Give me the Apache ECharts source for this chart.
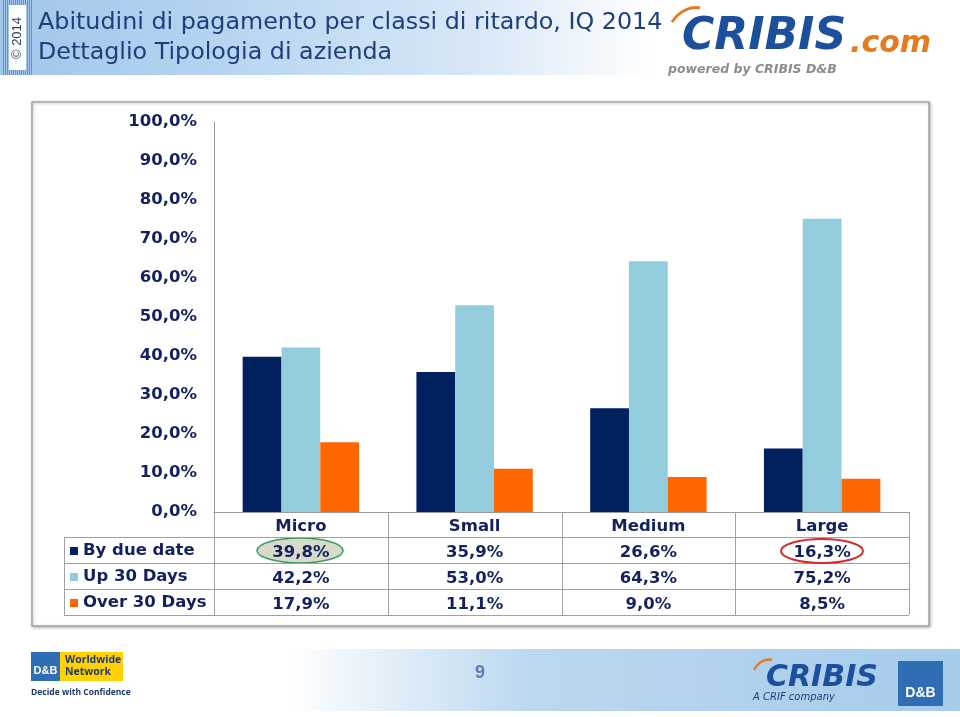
<!DOCTYPE html>
<html>
<head>
<meta charset="utf-8">
<script src="https://cdn.jsdelivr.net/npm/echarts@6/dist/echarts.min.js"></script>
<style>
html,body{margin:0;padding:0;background:#fff;}
#chart{width:960px;height:717px;}
</style>
</head>
<body>
<div id="chart"></div>
<script>
// ---- data ----
const categories = ['Micro', 'Small', 'Medium', 'Large'];
const seriesNames = ['By due date', 'Up 30 Days', 'Over 30 Days'];
const byDueDate = [39.8, 35.9, 26.6, 16.3];
const up30Days = [42.2, 53.0, 64.3, 75.2];
const over30Days = [17.9, 11.1, 9.0, 8.5];
const yTicks = [0, 10, 20, 30, 40, 50, 60, 70, 80, 90, 100];
const titleLine1 = 'Abitudini di pagamento per classi di ritardo, IQ 2014';
const titleLine2 = 'Dettaglio Tipologia di azienda';
const pageNumber = '9';

// ---- styling ----
const navy = '#13215f';
const colors = ['#002060', '#93cddd', '#ff6600'];
const tableFont = { fontFamily: 'DejaVu Sans', fontWeight: 'bold', fontSize: 16.5, color: navy };
const fmt = v => v.toFixed(1).replace('.', ',') + '%';
const allValues = [byDueDate, up30Days, over30Days];

const gridLeft = 214, gridRight = 909, gridTop = 122, gridBottom = 512;
const rowH = 26;

const chart = echarts.init(document.getElementById('chart'), null, { renderer: 'canvas' });

const xAxes = [{
  type: 'category', data: categories, position: 'bottom', gridIndex: 0, z: 5,
  axisLine: { show: true, lineStyle: { color: '#9a9a9a', width: 1 } },
  axisTick: { show: false },
  axisLabel: Object.assign({ margin: 6 }, tableFont)
}];
allValues.forEach((vals, i) => {
  xAxes.push({
    type: 'category', data: vals.map(fmt), position: 'bottom', gridIndex: 0, z: 5,
    offset: rowH * (i + 1),
    axisLine: { show: false }, axisTick: { show: false },
    axisLabel: Object.assign({ margin: 6 }, tableFont)
  });
});

// table lines & decoration
const g = [];
// header band
g.push({ type: 'rect', shape: { x: 0, y: 0, width: 960, height: 75 }, z: -10,
  style: { fill: new echarts.graphic.LinearGradient(0, 0, 1, 0, [
    { offset: 0, color: '#a2c6ea' }, { offset: 0.2, color: '#b2d2f0' }, { offset: 0.5, color: '#d9e8f7' }, { offset: 0.68, color: '#ffffff' }, { offset: 1, color: '#ffffff' }]) } });
// striped left strip
for (let i = 0; i < 15; i++) {
  g.push({ type: 'rect', shape: { x: 3 + i * 2, y: 0, width: 1, height: 75 }, z: -9, style: { fill: '#5f93cf' } });
}
g.push({ type: 'rect', shape: { x: 9, y: 5, width: 17, height: 65 }, z: -8, style: { fill: '#ffffff' } });
g.push({ type: 'text', x: 17.5, y: 38, rotation: Math.PI / 2, z: 1,
  style: { text: '© 2014', font: '13px "Liberation Sans"', fill: '#2a3f66', align: 'center', verticalAlign: 'middle' } });
// titles
g.push({ type: 'text', x: 38, y: 23, z: 1,
  style: { text: titleLine1, font: '23.8px "DejaVu Sans"', fill: '#1f3e7c', verticalAlign: 'middle' } });
g.push({ type: 'text', x: 38, y: 53, z: 1,
  style: { text: titleLine2, font: '23.8px "DejaVu Sans"', fill: '#1f3e7c', verticalAlign: 'middle' } });
// top logo
g.push({ type: 'bezierCurve', z: 1, shape: { x1: 672, y1: 22, x2: 700, y2: 8, cpx1: 680, cpy1: 10, cpx2: 692, cpy2: 6 },
  style: { stroke: '#e87a1e', lineWidth: 3, fill: null } });
g.push({ type: 'text', x: 682, y: 38, z: 1,
  style: { text: 'CRIBIS', font: 'italic bold 44px "DejaVu Sans"', fill: '#1c4f9c', verticalAlign: 'middle' } });
g.push({ type: 'text', x: 850, y: 44, z: 1,
  style: { text: '.com', font: 'italic bold 30px "DejaVu Sans"', fill: '#e87a1e', verticalAlign: 'middle' } });
g.push({ type: 'text', x: 668, y: 70, z: 1,
  style: { text: 'powered by CRIBIS D&B', font: 'italic bold 12.5px "DejaVu Sans"', fill: '#8c8c8c', verticalAlign: 'middle' } });
// chart frame
g.push({ type: 'rect', z: -5, shape: { x: 32, y: 102, width: 897, height: 524 },
  style: { fill: '#ffffff', stroke: '#a3a3a3', lineWidth: 1.5, shadowColor: 'rgba(0,0,0,0.25)', shadowBlur: 3, shadowOffsetX: 1, shadowOffsetY: 1 } });
// table horizontal lines
[537, 563, 589, 615].forEach(y => {
  g.push({ type: 'line', z: 3, shape: { x1: 64, y1: y + 0.5, x2: gridRight, y2: y + 0.5 }, style: { stroke: '#a0a0a0', lineWidth: 1 } });
});
// table vertical lines
g.push({ type: 'line', z: 3, shape: { x1: 64.5, y1: 537, x2: 64.5, y2: 615 }, style: { stroke: '#a0a0a0', lineWidth: 1 } });
const cw = (gridRight - gridLeft) / categories.length;
for (let i = 0; i <= categories.length; i++) {
  const x = Math.round(gridLeft + cw * i) + 0.5;
  g.push({ type: 'line', z: 3, shape: { x1: x, y1: 512, x2: x, y2: 615 }, style: { stroke: '#a0a0a0', lineWidth: 1 } });
}
// highlight ellipses
g.push({ type: 'ellipse', z: 2, shape: { cx: 300, cy: 550.5, rx: 43, ry: 12.5 },
  style: { fill: '#d8dbcc', stroke: '#3c9a5c', lineWidth: 1.5 } });
g.push({ type: 'ellipse', z: 6, shape: { cx: 822, cy: 551, rx: 41, ry: 12 },
  style: { fill: null, stroke: '#d42a2a', lineWidth: 2 } });
// footer band
g.push({ type: 'rect', z: -10, shape: { x: 0, y: 649, width: 960, height: 62 },
  style: { fill: new echarts.graphic.LinearGradient(0, 0, 1, 0, [
    { offset: 0, color: '#ffffff' }, { offset: 0.3, color: '#ffffff' }, { offset: 0.55, color: '#bcd8f0' }, { offset: 1, color: '#a6cbeb' }]) } });
g.push({ type: 'text', x: 480, y: 673, z: 1,
  style: { text: pageNumber, font: 'bold 18px "Liberation Sans"', fill: '#5a7db0', align: 'center', verticalAlign: 'middle' } });
// footer left logo
g.push({ type: 'rect', z: 1, shape: { x: 31, y: 652, width: 29, height: 29 }, style: { fill: '#2f6db5' } });
g.push({ type: 'text', x: 45.5, y: 671, z: 2, style: { text: 'D&B', font: 'bold 11px "Liberation Sans"', fill: '#ffffff', align: 'center', verticalAlign: 'middle' } });
g.push({ type: 'rect', z: 1, shape: { x: 60, y: 652, width: 63, height: 29 }, style: { fill: '#ffd200' } });
g.push({ type: 'text', x: 65, y: 660, z: 2, style: { text: 'Worldwide', font: 'bold 10.5px "Open Sans"', fill: '#1d3a6e', verticalAlign: 'middle' } });
g.push({ type: 'text', x: 65, y: 672, z: 2, style: { text: 'Network', font: 'bold 10.5px "Open Sans"', fill: '#1d3a6e', verticalAlign: 'middle' } });
g.push({ type: 'text', x: 31, y: 693, z: 2, style: { text: 'Decide with Confidence', font: 'bold 8.5px "Open Sans"', fill: '#1d3a6e', verticalAlign: 'middle' } });
// footer right logos
g.push({ type: 'bezierCurve', z: 1, shape: { x1: 754, y1: 670, x2: 772, y2: 660, cpx1: 758, cpy1: 662, cpx2: 766, cpy2: 658 },
  style: { stroke: '#e87a1e', lineWidth: 2.5, fill: null } });
g.push({ type: 'text', x: 766, y: 678, z: 1, style: { text: 'CRIBIS', font: 'italic bold 30px "DejaVu Sans"', fill: '#1c4f9c', verticalAlign: 'middle' } });
g.push({ type: 'text', x: 753, y: 697, z: 1, style: { text: 'A CRIF company', font: 'italic 10px "DejaVu Sans"', fill: '#1c3f7a', verticalAlign: 'middle' } });
g.push({ type: 'rect', z: 1, shape: { x: 898, y: 661, width: 45, height: 45 }, style: { fill: '#2f6db5' } });
g.push({ type: 'text', x: 920.5, y: 693, z: 2, style: { text: 'D&B', font: 'bold 14px "Liberation Sans"', fill: '#ffffff', align: 'center', verticalAlign: 'middle' } });

chart.setOption({
  animation: false,
  backgroundColor: '#ffffff',
  color: colors,
  grid: { left: gridLeft, right: 960 - gridRight, top: gridTop, bottom: 717 - gridBottom, containLabel: false },
  legend: {
    orient: 'vertical', left: 65, top: 537, itemGap: 8,
    icon: 'rect', itemWidth: 8, itemHeight: 8,
    data: seriesNames,
    textStyle: Object.assign({ lineHeight: 18, height: 18 }, tableFont),
    selectedMode: false
  },
  xAxis: xAxes,
  yAxis: {
    type: 'value', min: yTicks[0], max: yTicks[yTicks.length - 1], interval: 10,
    axisLine: { show: true, lineStyle: { color: '#9a9a9a' } },
    axisTick: { show: false },
    splitLine: { show: false },
    axisLabel: Object.assign({ margin: 17, formatter: v => fmt(v) }, tableFont, { fontSize: 16.5 })
  },
  series: allValues.map((vals, i) => ({
    name: seriesNames[i], type: 'bar', data: vals, xAxisIndex: 0,
    barGap: '0%', barCategoryGap: '33%',
    itemStyle: { color: colors[i] }
  })),
  graphic: { elements: g }
});
</script>
</body>
</html>
